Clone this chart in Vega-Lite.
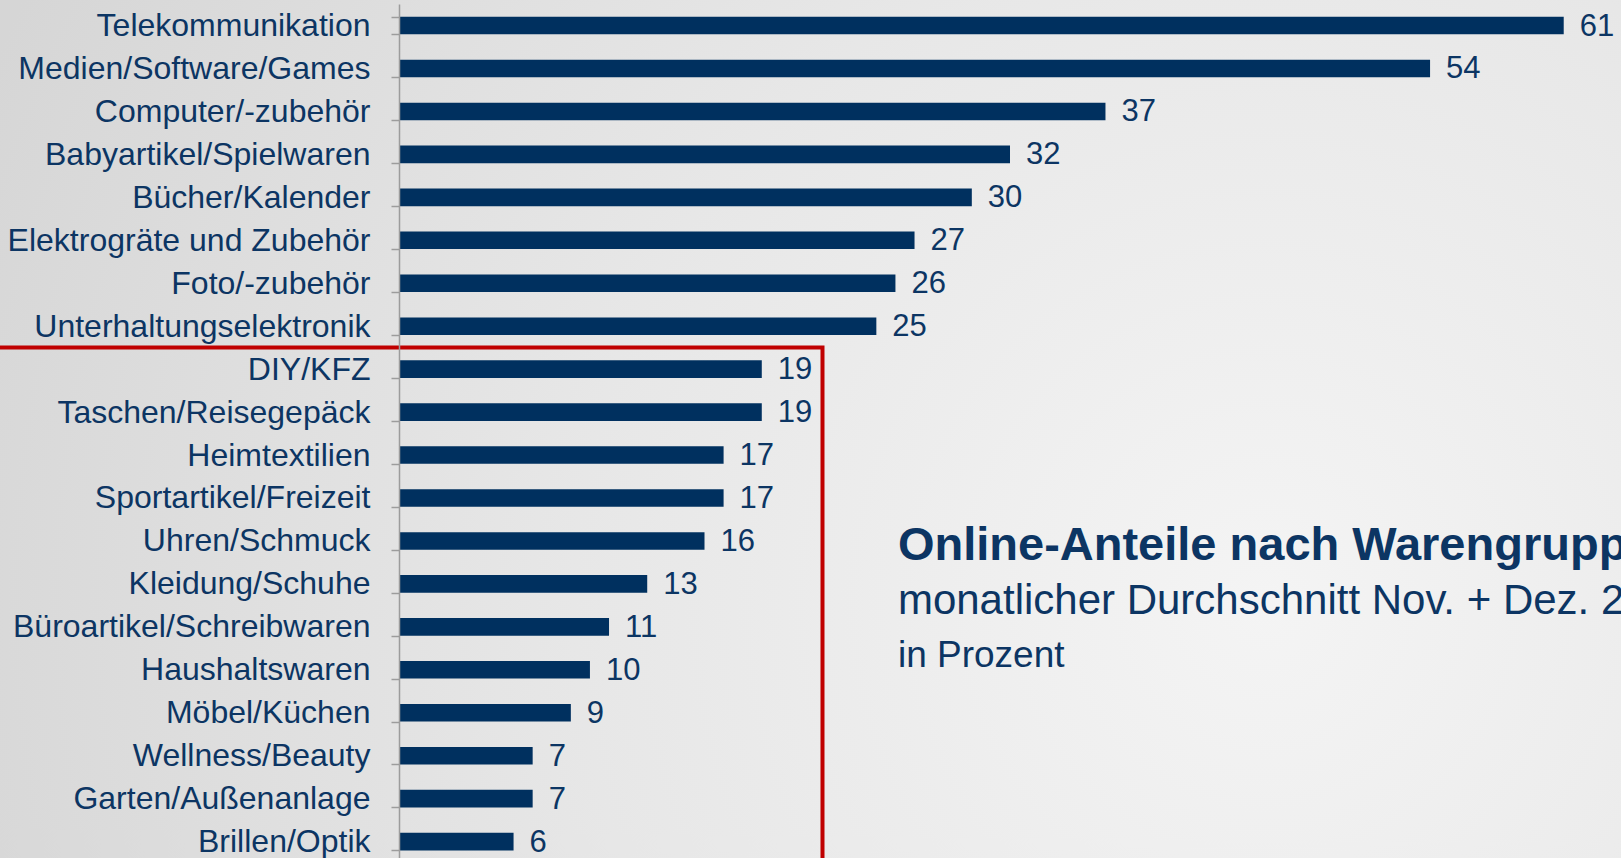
{
  "$schema": "https://vega.github.io/schema/vega-lite/v6.json",
  "width": 1222,
  "height": 854,
  "autosize": {"type": "none"},
  "padding": {"left": 399, "top": 4, "right": 0, "bottom": 0},
  "background": "#dcdcdc",
  "config": {"view": {"stroke": null}, "font": "Liberation Sans"},
  "datasets": {
    "shares": [
      {"cat": "Telekommunikation", "v": 61},
      {"cat": "Medien/Software/Games", "v": 54},
      {"cat": "Computer/-zubehör", "v": 37},
      {"cat": "Babyartikel/Spielwaren", "v": 32},
      {"cat": "Bücher/Kalender", "v": 30},
      {"cat": "Elektrogräte und Zubehör", "v": 27},
      {"cat": "Foto/-zubehör", "v": 26},
      {"cat": "Unterhaltungselektronik", "v": 25},
      {"cat": "DIY/KFZ", "v": 19},
      {"cat": "Taschen/Reisegepäck", "v": 19},
      {"cat": "Heimtextilien", "v": 17},
      {"cat": "Sportartikel/Freizeit", "v": 17},
      {"cat": "Uhren/Schmuck", "v": 16},
      {"cat": "Kleidung/Schuhe", "v": 13},
      {"cat": "Büroartikel/Schreibwaren", "v": 11},
      {"cat": "Haushaltswaren", "v": 10},
      {"cat": "Möbel/Küchen", "v": 9},
      {"cat": "Wellness/Beauty", "v": 7},
      {"cat": "Garten/Außenanlage", "v": 7},
      {"cat": "Brillen/Optik", "v": 6}
    ]
  },
  "layer": [
    {
      "data": {"values": [{}]},
      "mark": {
        "type": "rect",
        "fill": {
          "gradient": "radial",
          "x1": 0.78, "y1": 0.6, "r1": 0,
          "x2": 0.78, "y2": 0.6, "r2": 0.85,
          "stops": [
            {"offset": 0, "color": "#f4f4f4"},
            {"offset": 0.5, "color": "#e7e7e7"},
            {"offset": 1, "color": "#d6d6d6"}
          ]
        }
      },
      "encoding": {
        "x": {"datum": -21, "type": "quantitative", "scale": {"domain": [0, 64], "nice": false, "zero": false}, "axis": null},
        "x2": {"datum": 64},
        "y": {"datum": -0.2, "type": "quantitative", "scale": {"domain": [0, 19.884], "reverse": true, "nice": false, "zero": false}, "axis": null},
        "y2": {"datum": 20.5}
      }
    },
    {
      "data": {"name": "shares"},
      "mark": {"type": "bar", "color": "#00305f"},
      "encoding": {
        "y": {
          "field": "cat", "type": "nominal", "sort": null,
          "scale": {"type": "band", "paddingInner": 0.59, "paddingOuter": 0.237, "align": 0.626, "round": false},
          "axis": {
            "title": null, "labelFontSize": 32, "labelColor": "#0c3563", "labelFont": "Liberation Sans",
            "labelPadding": 21, "labelLimit": 1000, "tickSize": 8, "tickColor": "#9c9c9c", "tickWidth": 1.5,
            "domainColor": "#9c9c9c", "domainWidth": 1.5, "tickBand": "extent", "grid": false, "zindex": 2
          }
        },
        "x": {"field": "v", "type": "quantitative", "scale": {"domain": [0, 64], "nice": false, "zero": false}, "axis": null}
      }
    },
    {
      "data": {"name": "shares"},
      "mark": {"type": "text", "align": "left", "baseline": "middle", "dx": 16, "dy": 1, "fontSize": 31, "color": "#0c3563"},
      "encoding": {
        "y": {
          "field": "cat", "type": "nominal", "sort": null,
          "scale": {"type": "band", "paddingInner": 0.59, "paddingOuter": 0.237, "align": 0.626, "round": false},
          "axis": null
        },
        "x": {"field": "v", "type": "quantitative", "scale": {"domain": [0, 64], "nice": false, "zero": false}, "axis": null},
        "text": {"field": "v", "type": "quantitative"}
      }
    },
    {
      "data": {"values": [{}]},
      "mark": {"type": "rect", "filled": false, "stroke": "#c00000", "strokeWidth": 4},
      "encoding": {
        "x": {"datum": -25, "type": "quantitative", "scale": {"domain": [0, 64], "nice": false, "zero": false}, "axis": null},
        "x2": {"datum": 22.18},
        "y": {"datum": 8, "type": "quantitative", "scale": {"domain": [0, 19.884], "reverse": true, "nice": false, "zero": false}, "axis": null},
        "y2": {"datum": 21}
      }
    },
    {
      "data": {"values": [{}]},
      "mark": {"type": "text", "text": "Online-Anteile nach Warengruppen", "fontSize": 47, "fontWeight": "bold", "align": "left", "baseline": "alphabetic", "color": "#0c3563"},
      "encoding": {
        "x": {"datum": 26.13, "type": "quantitative", "scale": {"domain": [0, 64], "nice": false, "zero": false}, "axis": null},
        "y": {"datum": 12.945, "type": "quantitative", "scale": {"domain": [0, 19.884], "reverse": true, "nice": false, "zero": false}, "axis": null}
      }
    },
    {
      "data": {"values": [{}]},
      "mark": {"type": "text", "text": "monatlicher Durchschnitt Nov. + Dez. 2", "fontSize": 42, "align": "left", "baseline": "alphabetic", "color": "#0c3563"},
      "encoding": {
        "x": {"datum": 26.13, "type": "quantitative", "scale": {"domain": [0, 64], "nice": false, "zero": false}, "axis": null},
        "y": {"datum": 14.203, "type": "quantitative", "scale": {"domain": [0, 19.884], "reverse": true, "nice": false, "zero": false}, "axis": null}
      }
    },
    {
      "data": {"values": [{}]},
      "mark": {"type": "text", "text": "in Prozent", "fontSize": 37, "align": "left", "baseline": "alphabetic", "color": "#0c3563"},
      "encoding": {
        "x": {"datum": 26.13, "type": "quantitative", "scale": {"domain": [0, 64], "nice": false, "zero": false}, "axis": null},
        "y": {"datum": 15.437, "type": "quantitative", "scale": {"domain": [0, 19.884], "reverse": true, "nice": false, "zero": false}, "axis": null}
      }
    }
  ],
  "resolve": {"scale": {"y": "independent"}, "axis": {"y": "independent"}}
}
